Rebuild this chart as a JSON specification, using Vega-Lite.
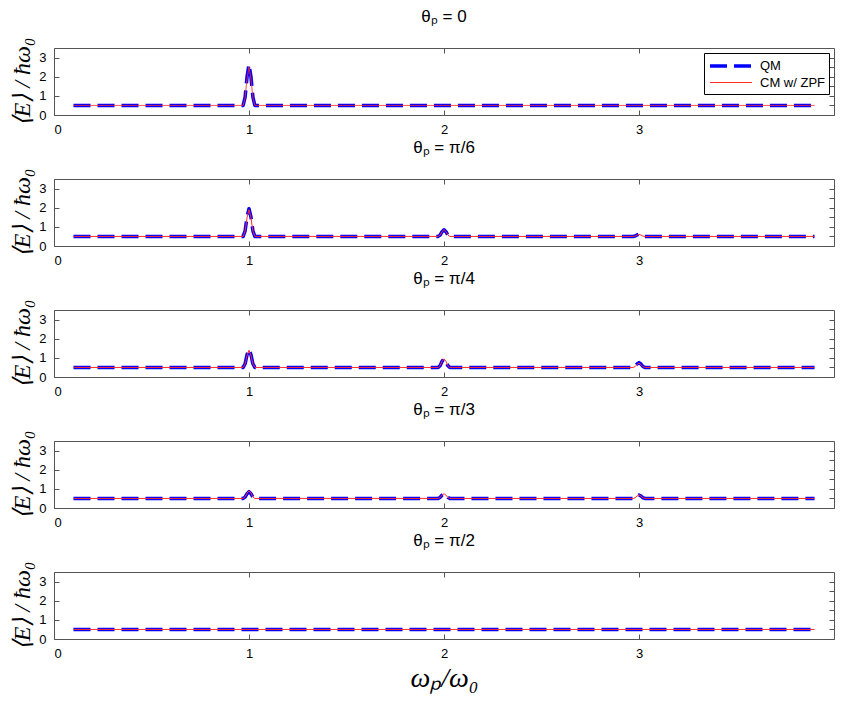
{
  "$schema": "https://vega.github.io/schema/vega-lite/v6.json",
  "background": "white",
  "padding": {"left": 10, "top": 7, "right": 5, "bottom": 2},
  "bounds": "flush",
  "spacing": 64,
  "config": {
    "view": {"stroke": "#555", "strokeWidth": 1},
    "axis": {"grid": false, "domain": false, "tickColor": "#555", "tickSize": 5, "offset": -5, "labelFont": "Liberation Sans", "labelFontSize": 13, "labelColor": "#000", "titleFont": "Liberation Serif", "titleFontStyle": "italic", "titleFontWeight": "normal", "titleFontSize": 24, "titleColor": "#000"},
    "axisX": {"labelPadding": 8},
    "axisY": {"labelPadding": 8},
    "title": {"font": "Liberation Sans", "fontSize": 17, "fontWeight": "normal", "color": "#000", "offset": 11},
    "line": {"strokeCap": "butt", "strokeJoin": "round"}
  },
  "resolve": {
    "scale": {"color": "independent", "strokeDash": "independent", "strokeWidth": "independent"},
    "legend": {"color": "independent", "strokeDash": "independent", "strokeWidth": "independent"}
  },
  "datasets": {
    "d": [
      {"p":1,"s":"QM","x":0.1,"y":0.5},{"p":1,"s":"QM","x":0.97,"y":0.5},{"p":1,"s":"QM","x":0.98,"y":0.93},{"p":1,"s":"QM","x":0.99,"y":2.0},{"p":1,"s":"QM","x":1.0,"y":2.65},{"p":1,"s":"QM","x":1.01,"y":2.0},{"p":1,"s":"QM","x":1.02,"y":0.93},{"p":1,"s":"QM","x":1.03,"y":0.5},{"p":1,"s":"QM","x":3.9,"y":0.5},
      {"p":1,"s":"CM w/ ZPF","x":0.1,"y":0.5},{"p":1,"s":"CM w/ ZPF","x":0.97,"y":0.5},{"p":1,"s":"CM w/ ZPF","x":0.98,"y":0.9},{"p":1,"s":"CM w/ ZPF","x":0.99,"y":1.9},{"p":1,"s":"CM w/ ZPF","x":1.0,"y":2.5},{"p":1,"s":"CM w/ ZPF","x":1.01,"y":1.9},{"p":1,"s":"CM w/ ZPF","x":1.02,"y":0.9},{"p":1,"s":"CM w/ ZPF","x":1.03,"y":0.5},{"p":1,"s":"CM w/ ZPF","x":3.9,"y":0.5},

      {"p":2,"s":"QM","x":0.1,"y":0.5},{"p":2,"s":"QM","x":0.97,"y":0.5},{"p":2,"s":"QM","x":0.98,"y":0.79},{"p":2,"s":"QM","x":0.99,"y":1.52},{"p":2,"s":"QM","x":1.0,"y":1.95},{"p":2,"s":"QM","x":1.01,"y":1.52},{"p":2,"s":"QM","x":1.02,"y":0.79},{"p":2,"s":"QM","x":1.03,"y":0.5},
      {"p":2,"s":"QM","x":1.97,"y":0.5},{"p":2,"s":"QM","x":1.98,"y":0.57},{"p":2,"s":"QM","x":1.99,"y":0.75},{"p":2,"s":"QM","x":2.0,"y":0.85},{"p":2,"s":"QM","x":2.01,"y":0.75},{"p":2,"s":"QM","x":2.02,"y":0.57},{"p":2,"s":"QM","x":2.03,"y":0.5},
      {"p":2,"s":"QM","x":2.97,"y":0.5},{"p":2,"s":"QM","x":2.98,"y":0.52},{"p":2,"s":"QM","x":2.99,"y":0.58},{"p":2,"s":"QM","x":3.0,"y":0.62},{"p":2,"s":"QM","x":3.01,"y":0.58},{"p":2,"s":"QM","x":3.02,"y":0.52},{"p":2,"s":"QM","x":3.03,"y":0.5},{"p":2,"s":"QM","x":3.9,"y":0.5},
      {"p":2,"s":"CM w/ ZPF","x":0.1,"y":0.5},{"p":2,"s":"CM w/ ZPF","x":0.97,"y":0.5},{"p":2,"s":"CM w/ ZPF","x":0.98,"y":0.78},{"p":2,"s":"CM w/ ZPF","x":0.99,"y":1.48},{"p":2,"s":"CM w/ ZPF","x":1.0,"y":1.9},{"p":2,"s":"CM w/ ZPF","x":1.01,"y":1.48},{"p":2,"s":"CM w/ ZPF","x":1.02,"y":0.78},{"p":2,"s":"CM w/ ZPF","x":1.03,"y":0.5},
      {"p":2,"s":"CM w/ ZPF","x":1.97,"y":0.5},{"p":2,"s":"CM w/ ZPF","x":1.98,"y":0.57},{"p":2,"s":"CM w/ ZPF","x":1.99,"y":0.75},{"p":2,"s":"CM w/ ZPF","x":2.0,"y":0.85},{"p":2,"s":"CM w/ ZPF","x":2.01,"y":0.75},{"p":2,"s":"CM w/ ZPF","x":2.02,"y":0.57},{"p":2,"s":"CM w/ ZPF","x":2.03,"y":0.5},
      {"p":2,"s":"CM w/ ZPF","x":2.97,"y":0.5},{"p":2,"s":"CM w/ ZPF","x":2.98,"y":0.52},{"p":2,"s":"CM w/ ZPF","x":2.99,"y":0.57},{"p":2,"s":"CM w/ ZPF","x":3.0,"y":0.6},{"p":2,"s":"CM w/ ZPF","x":3.01,"y":0.57},{"p":2,"s":"CM w/ ZPF","x":3.02,"y":0.52},{"p":2,"s":"CM w/ ZPF","x":3.03,"y":0.5},{"p":2,"s":"CM w/ ZPF","x":3.9,"y":0.5},

      {"p":3,"s":"QM","x":0.1,"y":0.5},{"p":3,"s":"QM","x":0.97,"y":0.5},{"p":3,"s":"QM","x":0.98,"y":0.69},{"p":3,"s":"QM","x":0.99,"y":1.17},{"p":3,"s":"QM","x":1.0,"y":1.45},{"p":3,"s":"QM","x":1.01,"y":1.17},{"p":3,"s":"QM","x":1.02,"y":0.69},{"p":3,"s":"QM","x":1.03,"y":0.5},
      {"p":3,"s":"QM","x":1.97,"y":0.5},{"p":3,"s":"QM","x":1.98,"y":0.59},{"p":3,"s":"QM","x":1.99,"y":0.82},{"p":3,"s":"QM","x":2.0,"y":0.95},{"p":3,"s":"QM","x":2.01,"y":0.82},{"p":3,"s":"QM","x":2.02,"y":0.59},{"p":3,"s":"QM","x":2.03,"y":0.5},
      {"p":3,"s":"QM","x":2.97,"y":0.5},{"p":3,"s":"QM","x":2.98,"y":0.55},{"p":3,"s":"QM","x":2.99,"y":0.68},{"p":3,"s":"QM","x":3.0,"y":0.75},{"p":3,"s":"QM","x":3.01,"y":0.68},{"p":3,"s":"QM","x":3.02,"y":0.55},{"p":3,"s":"QM","x":3.03,"y":0.5},{"p":3,"s":"QM","x":3.9,"y":0.5},
      {"p":3,"s":"CM w/ ZPF","x":0.1,"y":0.5},{"p":3,"s":"CM w/ ZPF","x":0.97,"y":0.5},{"p":3,"s":"CM w/ ZPF","x":0.98,"y":0.68},{"p":3,"s":"CM w/ ZPF","x":0.99,"y":1.13},{"p":3,"s":"CM w/ ZPF","x":1.0,"y":1.4},{"p":3,"s":"CM w/ ZPF","x":1.01,"y":1.13},{"p":3,"s":"CM w/ ZPF","x":1.02,"y":0.68},{"p":3,"s":"CM w/ ZPF","x":1.03,"y":0.5},
      {"p":3,"s":"CM w/ ZPF","x":1.97,"y":0.5},{"p":3,"s":"CM w/ ZPF","x":1.98,"y":0.59},{"p":3,"s":"CM w/ ZPF","x":1.99,"y":0.82},{"p":3,"s":"CM w/ ZPF","x":2.0,"y":0.95},{"p":3,"s":"CM w/ ZPF","x":2.01,"y":0.82},{"p":3,"s":"CM w/ ZPF","x":2.02,"y":0.59},{"p":3,"s":"CM w/ ZPF","x":2.03,"y":0.5},
      {"p":3,"s":"CM w/ ZPF","x":2.97,"y":0.5},{"p":3,"s":"CM w/ ZPF","x":2.98,"y":0.544},{"p":3,"s":"CM w/ ZPF","x":2.99,"y":0.654},{"p":3,"s":"CM w/ ZPF","x":3.0,"y":0.72},{"p":3,"s":"CM w/ ZPF","x":3.01,"y":0.654},{"p":3,"s":"CM w/ ZPF","x":3.02,"y":0.544},{"p":3,"s":"CM w/ ZPF","x":3.03,"y":0.5},{"p":3,"s":"CM w/ ZPF","x":3.9,"y":0.5},

      {"p":4,"s":"QM","x":0.1,"y":0.5},{"p":4,"s":"QM","x":0.97,"y":0.5},{"p":4,"s":"QM","x":0.98,"y":0.57},{"p":4,"s":"QM","x":0.99,"y":0.745},{"p":4,"s":"QM","x":1.0,"y":0.85},{"p":4,"s":"QM","x":1.01,"y":0.745},{"p":4,"s":"QM","x":1.02,"y":0.57},{"p":4,"s":"QM","x":1.03,"y":0.5},
      {"p":4,"s":"QM","x":1.97,"y":0.5},{"p":4,"s":"QM","x":1.98,"y":0.55},{"p":4,"s":"QM","x":1.99,"y":0.675},{"p":4,"s":"QM","x":2.0,"y":0.75},{"p":4,"s":"QM","x":2.01,"y":0.675},{"p":4,"s":"QM","x":2.02,"y":0.55},{"p":4,"s":"QM","x":2.03,"y":0.5},
      {"p":4,"s":"QM","x":2.97,"y":0.5},{"p":4,"s":"QM","x":2.98,"y":0.536},{"p":4,"s":"QM","x":2.99,"y":0.626},{"p":4,"s":"QM","x":3.0,"y":0.68},{"p":4,"s":"QM","x":3.01,"y":0.626},{"p":4,"s":"QM","x":3.02,"y":0.536},{"p":4,"s":"QM","x":3.03,"y":0.5},{"p":4,"s":"QM","x":3.9,"y":0.5},
      {"p":4,"s":"CM w/ ZPF","x":0.1,"y":0.5},{"p":4,"s":"CM w/ ZPF","x":0.97,"y":0.5},{"p":4,"s":"CM w/ ZPF","x":0.98,"y":0.58},{"p":4,"s":"CM w/ ZPF","x":0.99,"y":0.78},{"p":4,"s":"CM w/ ZPF","x":1.0,"y":0.9},{"p":4,"s":"CM w/ ZPF","x":1.01,"y":0.78},{"p":4,"s":"CM w/ ZPF","x":1.02,"y":0.58},{"p":4,"s":"CM w/ ZPF","x":1.03,"y":0.5},
      {"p":4,"s":"CM w/ ZPF","x":1.97,"y":0.5},{"p":4,"s":"CM w/ ZPF","x":1.98,"y":0.55},{"p":4,"s":"CM w/ ZPF","x":1.99,"y":0.675},{"p":4,"s":"CM w/ ZPF","x":2.0,"y":0.75},{"p":4,"s":"CM w/ ZPF","x":2.01,"y":0.675},{"p":4,"s":"CM w/ ZPF","x":2.02,"y":0.55},{"p":4,"s":"CM w/ ZPF","x":2.03,"y":0.5},
      {"p":4,"s":"CM w/ ZPF","x":2.97,"y":0.5},{"p":4,"s":"CM w/ ZPF","x":2.98,"y":0.536},{"p":4,"s":"CM w/ ZPF","x":2.99,"y":0.626},{"p":4,"s":"CM w/ ZPF","x":3.0,"y":0.68},{"p":4,"s":"CM w/ ZPF","x":3.01,"y":0.626},{"p":4,"s":"CM w/ ZPF","x":3.02,"y":0.536},{"p":4,"s":"CM w/ ZPF","x":3.03,"y":0.5},{"p":4,"s":"CM w/ ZPF","x":3.9,"y":0.5},

      {"p":5,"s":"QM","x":0.1,"y":0.5},{"p":5,"s":"QM","x":3.9,"y":0.5},
      {"p":5,"s":"CM w/ ZPF","x":0.1,"y":0.5},{"p":5,"s":"CM w/ ZPF","x":3.9,"y":0.5}
    ]
  },
  "vconcat": [
    {
      "width": 780, "height": 67,
      "title": "θₚ = 0",
      "data": {"name": "d"},
      "transform": [{"filter": "datum.p == 1"}],
      "resolve": {"axis": {"x": "independent", "y": "independent"}},
      "layer": [
        {"transform": [{"filter": "datum.s == 'QM'"}],
         "mark": {"type": "line"},
         "encoding": {
           "x": {"field": "x", "type": "quantitative", "scale": {"domain": [0, 4], "nice": false}, "axis": {"values": [0,1,2,3], "title": null}},
           "y": {"field": "y", "type": "quantitative", "scale": {"domain": [0, 3.5], "nice": false}, "axis": {"values": [0,1,2,3], "title": "⟨E⟩ / ħω₀", "titlePadding": 4}},
           "color": {"field": "s", "type": "nominal", "scale": {"domain": ["QM", "CM w/ ZPF"], "range": ["#0000ff", "#ff2a2a"]}, "legend": {"title": null, "orient": "top-right", "offset": 5, "fillColor": "white", "strokeColor": "#000", "padding": 4, "labelFont": "Liberation Sans", "labelFontSize": 13, "labelColor": "#000", "symbolType": "M-1,0H5", "symbolSize": 196, "labelOffset": 34, "rowPadding": 2}},
           "strokeDash": {"field": "s", "type": "nominal", "scale": {"domain": ["QM", "CM w/ ZPF"], "range": [[17, 7], [1, 0]]}},
           "strokeWidth": {"field": "s", "type": "nominal", "scale": {"domain": ["QM", "CM w/ ZPF"], "range": [3.5, 1]}}
         }},
        {"transform": [{"filter": "datum.s != 'QM'"}],
         "mark": {"type": "line"},
         "encoding": {
           "x": {"field": "x", "type": "quantitative", "scale": {"domain": [0, 4], "nice": false}, "axis": {"orient": "top", "values": [0,1,2,3], "labels": false, "title": null}},
           "y": {"field": "y", "type": "quantitative", "scale": {"domain": [0, 3.5], "nice": false}, "axis": {"orient": "right", "values": [0,0.5,1,1.5,2,2.5,3], "labels": false, "title": null}},
           "color": {"field": "s", "type": "nominal", "scale": {"domain": ["QM", "CM w/ ZPF"], "range": ["#0000ff", "#ff2a2a"]}},
           "strokeDash": {"field": "s", "type": "nominal", "scale": {"domain": ["QM", "CM w/ ZPF"], "range": [[17, 7], [1, 0]]}},
           "strokeWidth": {"field": "s", "type": "nominal", "scale": {"domain": ["QM", "CM w/ ZPF"], "range": [3.5, 1]}}
         }}
      ]
    },
    {
      "width": 780, "height": 67,
      "title": "θₚ = π/6",
      "data": {"name": "d"},
      "transform": [{"filter": "datum.p == 2"}],
      "resolve": {"axis": {"x": "independent", "y": "independent"}},
      "layer": [
        {"transform": [{"filter": "datum.s == 'QM'"}],
         "mark": {"type": "line", "color": "#0000ff", "strokeWidth": 3.5, "strokeDash": [17, 7]},
         "encoding": {
           "x": {"field": "x", "type": "quantitative", "scale": {"domain": [0, 4], "nice": false}, "axis": {"values": [0,1,2,3], "title": null}},
           "y": {"field": "y", "type": "quantitative", "scale": {"domain": [0, 3.5], "nice": false}, "axis": {"values": [0,1,2,3], "title": "⟨E⟩ / ħω₀", "titlePadding": 4}}
         }},
        {"transform": [{"filter": "datum.s != 'QM'"}],
         "mark": {"type": "line", "color": "#ff2a2a", "strokeWidth": 1},
         "encoding": {
           "x": {"field": "x", "type": "quantitative", "scale": {"domain": [0, 4], "nice": false}, "axis": {"orient": "top", "values": [0,1,2,3], "labels": false, "title": null}},
           "y": {"field": "y", "type": "quantitative", "scale": {"domain": [0, 3.5], "nice": false}, "axis": {"orient": "right", "values": [0,0.5,1,1.5,2,2.5,3], "labels": false, "title": null}}
         }}
      ]
    },
    {
      "width": 780, "height": 67,
      "title": "θₚ = π/4",
      "data": {"name": "d"},
      "transform": [{"filter": "datum.p == 3"}],
      "resolve": {"axis": {"x": "independent", "y": "independent"}},
      "layer": [
        {"transform": [{"filter": "datum.s == 'QM'"}],
         "mark": {"type": "line", "color": "#0000ff", "strokeWidth": 3.5, "strokeDash": [17, 7]},
         "encoding": {
           "x": {"field": "x", "type": "quantitative", "scale": {"domain": [0, 4], "nice": false}, "axis": {"values": [0,1,2,3], "title": null}},
           "y": {"field": "y", "type": "quantitative", "scale": {"domain": [0, 3.5], "nice": false}, "axis": {"values": [0,1,2,3], "title": "⟨E⟩ / ħω₀", "titlePadding": 4}}
         }},
        {"transform": [{"filter": "datum.s != 'QM'"}],
         "mark": {"type": "line", "color": "#ff2a2a", "strokeWidth": 1},
         "encoding": {
           "x": {"field": "x", "type": "quantitative", "scale": {"domain": [0, 4], "nice": false}, "axis": {"orient": "top", "values": [0,1,2,3], "labels": false, "title": null}},
           "y": {"field": "y", "type": "quantitative", "scale": {"domain": [0, 3.5], "nice": false}, "axis": {"orient": "right", "values": [0,0.5,1,1.5,2,2.5,3], "labels": false, "title": null}}
         }}
      ]
    },
    {
      "width": 780, "height": 67,
      "title": "θₚ = π/3",
      "data": {"name": "d"},
      "transform": [{"filter": "datum.p == 4"}],
      "resolve": {"axis": {"x": "independent", "y": "independent"}},
      "layer": [
        {"transform": [{"filter": "datum.s == 'QM'"}],
         "mark": {"type": "line", "color": "#0000ff", "strokeWidth": 3.5, "strokeDash": [17, 7]},
         "encoding": {
           "x": {"field": "x", "type": "quantitative", "scale": {"domain": [0, 4], "nice": false}, "axis": {"values": [0,1,2,3], "title": null}},
           "y": {"field": "y", "type": "quantitative", "scale": {"domain": [0, 3.5], "nice": false}, "axis": {"values": [0,1,2,3], "title": "⟨E⟩ / ħω₀", "titlePadding": 4}}
         }},
        {"transform": [{"filter": "datum.s != 'QM'"}],
         "mark": {"type": "line", "color": "#ff2a2a", "strokeWidth": 1},
         "encoding": {
           "x": {"field": "x", "type": "quantitative", "scale": {"domain": [0, 4], "nice": false}, "axis": {"orient": "top", "values": [0,1,2,3], "labels": false, "title": null}},
           "y": {"field": "y", "type": "quantitative", "scale": {"domain": [0, 3.5], "nice": false}, "axis": {"orient": "right", "values": [0,0.5,1,1.5,2,2.5,3], "labels": false, "title": null}}
         }}
      ]
    },
    {
      "width": 780, "height": 67,
      "title": "θₚ = π/2",
      "data": {"name": "d"},
      "transform": [{"filter": "datum.p == 5"}],
      "resolve": {"axis": {"x": "independent", "y": "independent"}},
      "layer": [
        {"transform": [{"filter": "datum.s == 'QM'"}],
         "mark": {"type": "line", "color": "#0000ff", "strokeWidth": 3.5, "strokeDash": [17, 7]},
         "encoding": {
           "x": {"field": "x", "type": "quantitative", "scale": {"domain": [0, 4], "nice": false}, "axis": {"values": [0,1,2,3], "title": "ωₚ/ω₀", "titleFontSize": 28, "titlePadding": 4}},
           "y": {"field": "y", "type": "quantitative", "scale": {"domain": [0, 3.5], "nice": false}, "axis": {"values": [0,1,2,3], "title": "⟨E⟩ / ħω₀", "titlePadding": 4}}
         }},
        {"transform": [{"filter": "datum.s != 'QM'"}],
         "mark": {"type": "line", "color": "#ff2a2a", "strokeWidth": 1},
         "encoding": {
           "x": {"field": "x", "type": "quantitative", "scale": {"domain": [0, 4], "nice": false}, "axis": {"orient": "top", "values": [0,1,2,3], "labels": false, "title": null}},
           "y": {"field": "y", "type": "quantitative", "scale": {"domain": [0, 3.5], "nice": false}, "axis": {"orient": "right", "values": [0,0.5,1,1.5,2,2.5,3], "labels": false, "title": null}}
         }}
      ]
    }
  ]
}
